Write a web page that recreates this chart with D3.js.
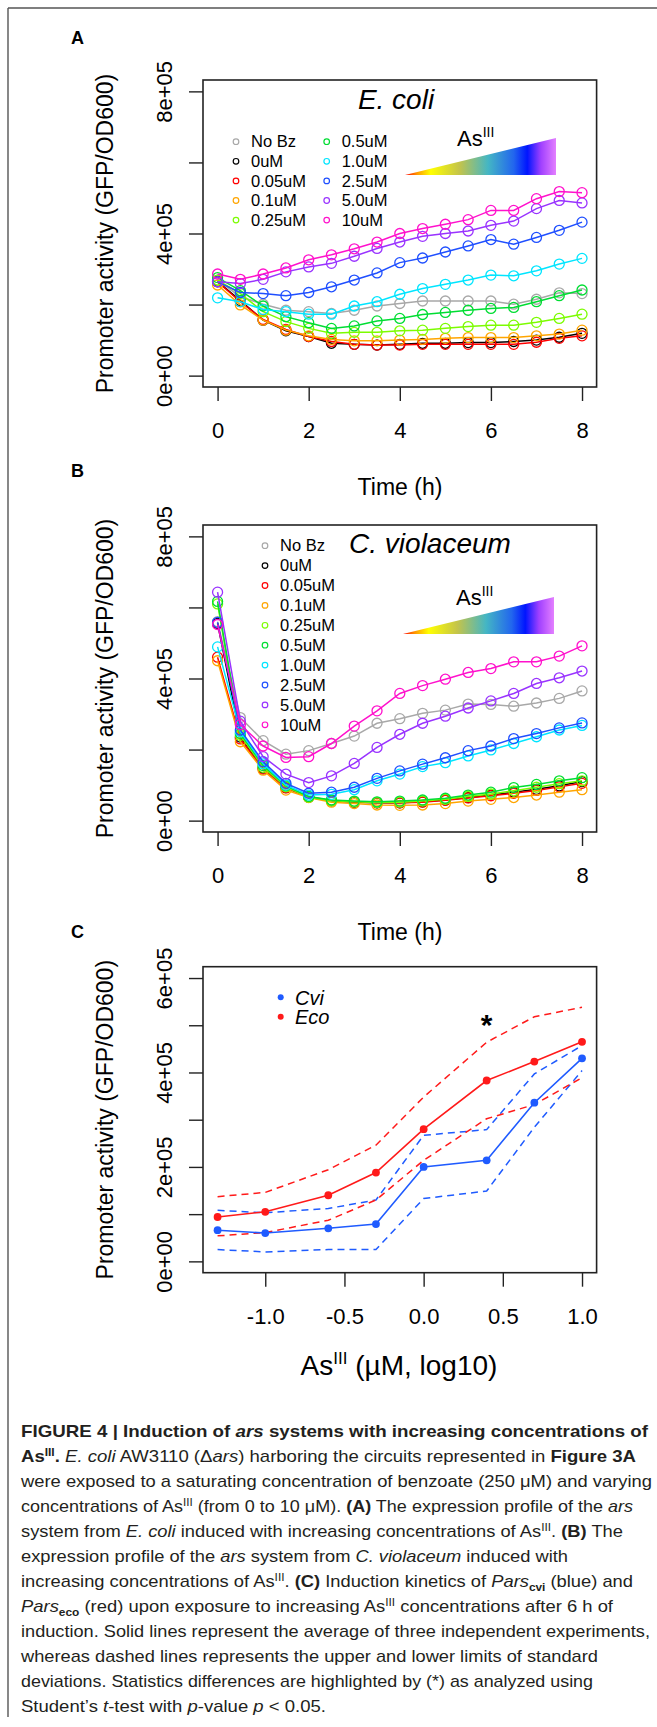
<!DOCTYPE html>
<html>
<head>
<meta charset="utf-8">
<script src="https://cdn.jsdelivr.net/npm/d3@7"></script>
<style>
  body { margin: 0; background: #fff; }
  svg { display: block; font-family: "Liberation Sans", Arial, Helvetica, sans-serif; }
</style>
</head>
<body>
<svg id="fig" width="657" height="1727"></svg>
<script>
// values are read in units of 1e5 GFP/OD600
const UNIT = 1e5;
const hours = [0, 0.5, 1, 1.5, 2, 2.5, 3, 3.5, 4, 4.5, 5, 5.5, 6, 6.5, 7, 7.5, 8];
const hourTicks = [0, 2, 4, 6, 8];
const concLabels = ['No Bz', '0uM', '0.05uM', '0.1uM', '0.25uM', '0.5uM', '1.0uM', '2.5uM', '5.0uM', '10uM'];
const concColors = ['#a8a8a8', '#000000', '#ff0000', '#ffa500', '#7cfc00', '#00dd33', '#00e5ff', '#1f4fff', '#9933ff', '#ff11cc'];

// panel A, E. coli
const ecoNoBz = [2.69, 2.22, 2.01, 1.84, 1.80, 1.75, 1.84, 1.96, 2.03, 2.10, 2.10, 2.10, 2.10, 2.01, 2.15, 2.33, 2.31];
const eco0 = [2.65, 2.11, 1.56, 1.26, 1.10, 0.91, 0.88, 0.86, 0.88, 0.91, 0.91, 0.93, 0.93, 0.96, 1.00, 1.08, 1.19];
const eco005 = [2.64, 2.08, 1.58, 1.30, 1.10, 0.96, 0.88, 0.86, 0.86, 0.88, 0.88, 0.88, 0.88, 0.88, 0.94, 1.05, 1.12];
const eco01 = [2.55, 1.99, 1.56, 1.28, 1.12, 1.02, 0.98, 0.98, 1.00, 1.02, 1.05, 1.07, 1.07, 1.07, 1.12, 1.17, 1.28];
const eco025 = [2.69, 2.31, 1.80, 1.52, 1.33, 1.19, 1.22, 1.22, 1.26, 1.28, 1.33, 1.38, 1.42, 1.42, 1.50, 1.61, 1.73];
const eco05 = [2.76, 2.39, 1.96, 1.66, 1.49, 1.33, 1.40, 1.54, 1.61, 1.72, 1.78, 1.84, 1.89, 1.92, 2.08, 2.25, 2.41];
const eco1 = [2.19, 2.08, 1.86, 1.80, 1.73, 1.73, 1.96, 2.08, 2.29, 2.45, 2.57, 2.69, 2.83, 2.81, 2.95, 3.14, 3.30];
const eco25 = [2.64, 2.34, 2.31, 2.25, 2.34, 2.50, 2.69, 2.89, 3.18, 3.31, 3.48, 3.65, 3.83, 3.70, 3.89, 4.09, 4.32];
const eco5 = [2.64, 2.59, 2.71, 2.92, 3.06, 3.16, 3.36, 3.58, 3.76, 3.92, 4.00, 4.07, 4.23, 4.35, 4.70, 4.93, 4.86];
const eco10 = [2.86, 2.71, 2.86, 3.03, 3.26, 3.40, 3.57, 3.76, 4.00, 4.14, 4.26, 4.39, 4.65, 4.65, 4.98, 5.18, 5.15];

// panel B, C. violaceum
const cviNoBz = [5.60, 2.90, 2.25, 1.87, 1.97, 2.17, 2.38, 2.74, 2.87, 3.02, 3.11, 3.28, 3.27, 3.22, 3.31, 3.44, 3.65];
const cvi0 = [5.55, 2.35, 1.48, 0.93, 0.66, 0.56, 0.52, 0.50, 0.50, 0.53, 0.58, 0.65, 0.72, 0.80, 0.88, 0.98, 1.10];
const cvi005 = [4.60, 2.30, 1.45, 0.92, 0.67, 0.57, 0.53, 0.50, 0.50, 0.52, 0.57, 0.64, 0.70, 0.77, 0.85, 0.95, 1.05];
const cvi01 = [4.50, 2.22, 1.42, 0.86, 0.65, 0.52, 0.48, 0.44, 0.43, 0.44, 0.48, 0.55, 0.60, 0.65, 0.72, 0.80, 0.87];
const cvi025 = [6.10, 2.40, 1.50, 0.95, 0.66, 0.56, 0.53, 0.51, 0.52, 0.55, 0.60, 0.68, 0.75, 0.84, 0.94, 1.04, 1.12];
const cvi05 = [6.17, 2.45, 1.55, 0.98, 0.68, 0.58, 0.55, 0.53, 0.55, 0.58, 0.63, 0.72, 0.80, 0.93, 1.02, 1.12, 1.21];
const cvi1 = [4.89, 2.50, 1.60, 1.00, 0.72, 0.74, 0.87, 1.12, 1.31, 1.52, 1.63, 1.82, 1.99, 2.17, 2.36, 2.55, 2.68];
const cvi25 = [5.58, 2.55, 1.66, 1.05, 0.77, 0.80, 0.94, 1.19, 1.40, 1.59, 1.77, 1.97, 2.10, 2.31, 2.45, 2.61, 2.75];
const cvi5 = [6.43, 2.80, 1.80, 1.31, 1.07, 1.26, 1.61, 2.06, 2.43, 2.74, 2.94, 3.17, 3.37, 3.58, 3.86, 4.02, 4.21];
const cvi10 = [5.52, 2.70, 2.10, 1.78, 1.80, 2.17, 2.66, 3.09, 3.58, 3.80, 3.98, 4.17, 4.28, 4.47, 4.47, 4.63, 4.92];

// panel C, response after 6 h
const arsConc = [0.05, 0.1, 0.25, 0.5, 1.0, 2.5, 5.0, 10];
const concTicks = [-1.0, -0.5, 0.0, 0.5, 1.0];
const ecoMean = [0.94, 1.05, 1.40, 1.88, 2.80, 3.83, 4.23, 4.65];
const ecoUpper = [1.37, 1.46, 1.94, 2.46, 3.48, 4.64, 5.18, 5.38];
const ecoLower = [0.54, 0.61, 0.87, 1.30, 2.14, 3.02, 3.32, 3.89];
const cviMean = [0.66, 0.60, 0.70, 0.79, 2.00, 2.14, 3.36, 4.30];
const cviUpper = [1.08, 1.03, 1.12, 1.30, 2.67, 2.79, 3.97, 4.57];
const cviLower = [0.25, 0.20, 0.25, 0.25, 1.33, 1.49, 2.84, 4.04];

const svg = d3.select('#fig');
const boxLeft = 203, boxRight = 596.6;
const ink = '#222';

// R style 4% padding on both ends
function pad(lo, hi) {
    const e = (hi - lo) * 0.04;
    return [lo - e, hi + e];
}

function sci(v) {
    if (v === 0) return '0e+00';
    const e = Math.floor(Math.log10(v));
    return Math.round(v / Math.pow(10, e)) + 'e+' + String(e).padStart(2, '0');
}

// gradient for the As(III) wedge
const grad = svg.append('defs').append('linearGradient').attr('id', 'asGrad');
[[0, '#ff0000'], [0.08, '#ff9900'], [0.17, '#ffff00'], [0.36, '#c4c44a'], [0.55, '#44b6c4'],
 [0.72, '#2266ee'], [0.81, '#0015ff'], [0.9, '#a040ff'], [1, '#e480ff']]
    .forEach(s => grad.append('stop').attr('offset', s[0]).attr('stop-color', s[1]));

// page frame
svg.append('line').attr('x1', 8).attr('y1', 8).attr('x2', 657).attr('y2', 8)
    .attr('stroke', '#555').attr('stroke-width', 1.4);
svg.append('line').attr('x1', 8).attr('y1', 8).attr('x2', 8).attr('y2', 1717)
    .attr('stroke', '#555').attr('stroke-width', 1.4);

function yAxis(g, y, ticks, labelled) {
    const ax = g.append('g')
        .attr('transform', 'translate(' + boxLeft + ',0)')
        .call(d3.axisLeft(y).tickValues(ticks).tickSize(14)
            .tickFormat(d => labelled.includes(d) ? sci(d * UNIT) : ''));
    ax.select('.domain').remove();
    ax.selectAll('line').attr('stroke', ink).attr('stroke-width', 1.4);
    ax.selectAll('text')
        .attr('x', null).attr('dy', null)
        .attr('transform', 'translate(-31,0) rotate(-90)')
        .attr('text-anchor', 'middle')
        .attr('font-size', 22).attr('fill', '#000')
        .attr('font-family', null);
}

function xAxis(g, x, ticks, bottom, fmt) {
    const ax = g.append('g')
        .attr('transform', 'translate(0,' + bottom + ')')
        .call(d3.axisBottom(x).tickValues(ticks).tickSize(14).tickFormat(fmt));
    ax.select('.domain').remove();
    ax.selectAll('line').attr('stroke', ink).attr('stroke-width', 1.4);
    ax.selectAll('text').attr('y', 51.3).attr('dy', null)
        .attr('font-size', 22).attr('fill', '#000').attr('font-family', null);
}

function box(g, top, bottom) {
    g.append('rect').attr('x', boxLeft).attr('y', top)
        .attr('width', boxRight - boxLeft).attr('height', bottom - top)
        .attr('fill', 'none').attr('stroke', ink).attr('stroke-width', 1.6);
}

function yTitle(g, cy) {
    g.append('text')
        .attr('transform', 'translate(113,' + cy + ') rotate(-90)')
        .attr('text-anchor', 'middle').attr('font-size', 23)
        .text('Promoter activity (GFP/OD600)');
}

function panelLabel(t, y) {
    svg.append('text').attr('x', 71).attr('y', y)
        .attr('font-size', 18).attr('font-weight', 'bold').text(t);
}

function asLabel(g, x, y) {
    const t = g.append('text').attr('x', x).attr('y', y).attr('font-size', 22);
    t.append('tspan').text('As');
    t.append('tspan').attr('font-size', 14).attr('dy', -9).text('III');
}

function timePanel(p) {
    const g = svg.append('g');
    const x = d3.scaleLinear().domain(pad(0, 8)).range([boxLeft, boxRight]);
    const y = d3.scaleLinear().domain(pad(0, 8)).range([p.bottom, p.top]);

    const line = d3.line()
        .x((d, i) => x(hours[i]))
        .y(d => y(d));

    p.series.forEach((s, k) => {
        g.append('path').datum(s)
            .attr('d', line)
            .attr('fill', 'none')
            .attr('stroke', concColors[k])
            .attr('stroke-width', 1.5);
        g.selectAll(null).data(s).enter().append('circle')
            .attr('cx', (d, i) => x(hours[i]))
            .attr('cy', d => y(d))
            .attr('r', 5)
            .attr('fill', 'none')
            .attr('stroke', concColors[k])
            .attr('stroke-width', 1.3);
    });

    box(g, p.top, p.bottom);
    yAxis(g, y, [0, 2, 4, 6, 8], [0, 4, 8]);
    xAxis(g, x, hourTicks, p.bottom, d3.format('d'));
    yTitle(g, (p.top + p.bottom) / 2);

    g.append('text').attr('x', 400).attr('y', p.bottom + 107.5)
        .attr('text-anchor', 'middle').attr('font-size', 23).text('Time (h)');

    g.append('text').attr('x', p.titleX).attr('y', p.titleY)
        .attr('text-anchor', 'middle').attr('font-size', 28)
        .attr('font-style', 'italic').text(p.title);

    // concentration legend
    concLabels.forEach((lab, i) => {
        const col = Math.floor(i / p.perCol), row = i % p.perCol;
        const lx = p.legX[col], ly = p.legY + row * p.legStep;
        g.append('circle').attr('cx', lx).attr('cy', ly).attr('r', 2.8)
            .attr('fill', 'none').attr('stroke', concColors[i]).attr('stroke-width', 1.2);
        g.append('text').attr('x', lx + 15).attr('y', ly).attr('dy', '0.35em')
            .attr('font-size', 16.5).text(lab);
    });

    // As(III) wedge
    const w = p.wedge;
    g.append('polygon')
        .attr('points', [[w.x0, w.y0], [w.x1, w.y0], [w.x1, w.y1]].map(q => q.join(',')).join(' '))
        .attr('fill', 'url(#asGrad)');
    asLabel(g, w.tx, w.ty);
}

timePanel({
    top: 80, bottom: 387,
    series: [ecoNoBz, eco0, eco005, eco01, eco025, eco05, eco1, eco25, eco5, eco10],
    title: 'E. coli', titleX: 396, titleY: 109,
    perCol: 5, legX: [236, 326.7], legY: 141.7, legStep: 19.6,
    wedge: { x0: 405, x1: 556, y0: 175, y1: 138, tx: 457, ty: 146 }
});

timePanel({
    top: 525, bottom: 832,
    series: [cviNoBz, cvi0, cvi005, cvi01, cvi025, cvi05, cvi1, cvi25, cvi5, cvi10],
    title: 'C. violaceum', titleX: 430, titleY: 553,
    perCol: 10, legX: [265], legY: 545.7, legStep: 19.9,
    wedge: { x0: 403, x1: 554, y0: 634, y1: 597, tx: 456, ty: 605 }
});

panelLabel('A', 43.5);
panelLabel('B', 477);
panelLabel('C', 938);

// panel C, dose response
(function () {
    const top = 966.7, bottom = 1272.7;
    const g = svg.append('g');
    const lx = arsConc.map(c => Math.log10(c));
    const x = d3.scaleLinear().domain(pad(d3.min(lx), d3.max(lx))).range([boxLeft, boxRight]);
    const y = d3.scaleLinear().domain(pad(0, 6)).range([bottom, top]);
    const line = d3.line().x((d, i) => x(lx[i])).y(d => y(d));

    const blue = '#1f5bff', red = '#ff1a1a';
    [[cviUpper, blue], [cviLower, blue], [ecoUpper, red], [ecoLower, red]].forEach(s => {
        g.append('path').datum(s[0]).attr('d', line)
            .attr('fill', 'none').attr('stroke', s[1])
            .attr('stroke-width', 1.5).attr('stroke-dasharray', '7,5');
    });
    [[cviMean, blue], [ecoMean, red]].forEach(s => {
        g.append('path').datum(s[0]).attr('d', line)
            .attr('fill', 'none').attr('stroke', s[1]).attr('stroke-width', 1.6);
        g.selectAll(null).data(s[0]).enter().append('circle')
            .attr('cx', (d, i) => x(lx[i])).attr('cy', d => y(d))
            .attr('r', 3.9).attr('fill', s[1]);
    });

    box(g, top, bottom);
    yAxis(g, y, [0, 1, 2, 3, 4, 5, 6], [0, 2, 4, 6]);
    xAxis(g, x, concTicks, bottom, d => d.toFixed(1));
    yTitle(g, (top + bottom) / 2);

    // legend
    [['Cvi', blue, 997.3], ['Eco', red, 1016.7]].forEach(l => {
        g.append('circle').attr('cx', 280.7).attr('cy', l[2]).attr('r', 3).attr('fill', l[1]);
        g.append('text').attr('x', 295).attr('y', l[2]).attr('dy', '0.36em')
            .attr('font-size', 20).attr('font-style', 'italic').text(l[0]);
    });

    // significance mark at 2.5 uM
    g.append('text').attr('x', x(lx[5])).attr('y', 1035)
        .attr('text-anchor', 'middle').attr('font-size', 30).attr('font-weight', 'bold').text('*');

    const t = g.append('text').attr('x', 399).attr('y', 1375)
        .attr('text-anchor', 'middle').attr('font-size', 28);
    t.append('tspan').text('As');
    t.append('tspan').attr('font-size', 17).attr('dy', -11).text('III');
    t.append('tspan').attr('dy', 11).text(' (\u00b5M, log10)');
})();

// caption, one entry per printed line: [text, style]
const captionLines = [
    [['FIGURE 4 | Induction of ', 'b'], ['ars', 'bi'], [' systems with increasing concentrations of', 'b']],
    [['As', 'b'], ['III', 'bsup'], ['.', 'b'], [' '], ['E. coli', 'i'], [' AW3110 (\u0394'], ['ars', 'i'],
     [') harboring the circuits represented in '], ['Figure 3A', 'b']],
    [['were exposed to a saturating concentration of benzoate (250 \u03bcM) and varying']],
    [['concentrations of As'], ['III', 'sup'], [' (from 0 to 10 \u03bcM). '], ['(A)', 'b'],
     [' The expression profile of the '], ['ars', 'i']],
    [['system from '], ['E. coli', 'i'], [' induced with increasing concentrations of As'], ['III', 'sup'],
     ['. '], ['(B)', 'b'], [' The']],
    [['expression profile of the '], ['ars', 'i'], [' system from '], ['C. violaceum', 'i'], [' induced with']],
    [['increasing concentrations of As'], ['III', 'sup'], ['. '], ['(C)', 'b'], [' Induction kinetics of '],
     ['Pars', 'i'], ['cvi', 'sub'], [' (blue) and']],
    [['Pars', 'i'], ['eco', 'sub'], [' (red) upon exposure to increasing As'], ['III', 'sup'],
     [' concentrations after 6 h of']],
    [['induction. Solid lines represent the average of three independent experiments,']],
    [['whereas dashed lines represents the upper and lower limits of standard']],
    [['deviations. Statistics differences are highlighted by (*) as analyzed using']],
    [['Student\u2019s '], ['t', 'i'], ['-test with '], ['p', 'i'], ['-value '], ['p', 'i'], [' < 0.05.']]
];
const captionWidths = [627, 615, 631, 612, 602, 547, 612, 592, 629, 577, 572, 305];

captionLines.forEach((segs, li) => {
    const t = svg.append('text')
        .attr('x', 21).attr('y', 1437 + li * 25)
        .attr('font-size', 17).attr('fill', '#231f20')
        .attr('textLength', captionWidths[li])
        .attr('lengthAdjust', 'spacingAndGlyphs');
    let shift = 0;
    segs.forEach(s => {
        const st = s[1] || '';
        const sp = t.append('tspan').text(s[0]);
        if (st.includes('b')) sp.attr('font-weight', 'bold');
        if (st.includes('i')) sp.attr('font-style', 'italic');
        const want = st.includes('sup') ? -6 : st.includes('sub') ? 4 : 0;
        if (want !== shift) { sp.attr('dy', want - shift); shift = want; }
        if (want !== 0) sp.attr('font-size', 11);
    });
});
</script>
</body>
</html>
